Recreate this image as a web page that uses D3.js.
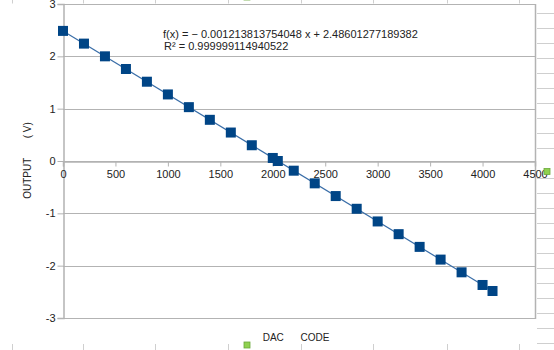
<!DOCTYPE html>
<html><head><meta charset="utf-8">
<script src="https://cdn.jsdelivr.net/npm/d3@7"></script>
<style>
html,body{margin:0;padding:0;background:#fff;}
svg{display:block;font-family:"Liberation Sans",Arial,sans-serif;}
</style></head>
<body>
<svg id="c" width="554" height="350"></svg>
<script>
// DATA
const dacCodes = [0,200,400,600,800,1000,1200,1400,1600,1800,2000,2048,2200,2400,2600,2800,3000,3200,3400,3600,3800,4000,4095];
const outputV  = [2.486,2.243,2.000,1.758,1.515,1.272,1.029,0.787,0.544,0.301,0.058,0.000,-0.185,-0.427,-0.670,-0.913,-1.155,-1.398,-1.641,-1.884,-2.127,-2.369,-2.484];
const xTicks = [0,500,1000,1500,2000,2500,3000,3500,4000,4500];
const yTicks = [-3,-2,-1,0,1,2,3];
const trendSlope = -0.001213813754048;
const trendIntercept = 2.48601277189382;
const eqLine1 = "f(x) = \u2212 0.001213813754048 x + 2.48601277189382";
const eqLine2 = "R\u00B2 = 0.999999114940522";
const xTitle = "DAC      CODE";
const yTitle = "OUTPUT       ( V)";

const svg = d3.select("#c");
const L=63, R=535, T=4, B=318;
const x = d3.scaleLinear().domain([0,4500]).range([L,R]);
const y = d3.scaleLinear().domain([-3,3]).range([B,T]);

// spreadsheet background lines (outside chart)
const colXs=[12,83,155,228,301,373,447,519];
const bg = svg.append("g").attr("stroke","#cfcfcf").attr("stroke-width",1);
colXs.forEach(cx=>{
  bg.append("line").attr("x1",cx+0.5).attr("x2",cx+0.5).attr("y1",0).attr("y2",3.5);
  bg.append("line").attr("x1",cx+0.5).attr("x2",cx+0.5).attr("y1",344).attr("y2",350);
});
[13,28,43,58,73,88,103,118,133,148,178,193,208,223,238,253,268,283,298,313,328,343].forEach(ry=>{
  bg.append("line").attr("x1",537).attr("x2",554).attr("y1",ry+0.5).attr("y2",ry+0.5);
});

// gridlines
svg.append("g").selectAll("line").data(yTicks).join("line")
  .attr("x1",L).attr("x2",R)
  .attr("y1",d=>Math.round(y(d))+0.5).attr("y2",d=>Math.round(y(d))+0.5)
  .attr("stroke","#b3b3b3").attr("stroke-width",1);
// right border
svg.append("line").attr("x1",R+0.5).attr("x2",R+0.5).attr("y1",T).attr("y2",B+1)
  .attr("stroke","#b3b3b3").attr("stroke-width",1.5);

const fmt = d=>String(d);
// y axis
const gy = svg.append("g").attr("transform",`translate(${L+0.5},0)`)
  .call(d3.axisLeft(y).tickValues(yTicks).tickSize(6).tickPadding(2).tickFormat(fmt));
// x axis at y=0
const gx = svg.append("g").attr("transform",`translate(0,${Math.round(y(0))+0.5})`)
  .call(d3.axisBottom(x).tickValues(xTicks).tickSize(5).tickPadding(4).tickFormat(fmt));
[gx,gy].forEach(g=>{
  g.select(".domain").attr("stroke","#b3b3b3").attr("stroke-width",1.5);
  g.selectAll(".tick line").attr("stroke","#b3b3b3");
  g.selectAll("text").attr("fill","#222").style("font-size","11px").style("font-family","'Liberation Sans',Arial,sans-serif");
});

// trend line
const xs=[dacCodes[0], dacCodes[dacCodes.length-1]];
svg.append("line")
  .attr("x1",x(xs[0])).attr("y1",y(trendSlope*xs[0]+trendIntercept))
  .attr("x2",x(xs[1])).attr("y2",y(trendSlope*xs[1]+trendIntercept))
  .attr("stroke","#3a6ea8").attr("stroke-width",1.2);

// markers
const pts = dacCodes.map((d,i)=>({x:d,y:outputV[i]}));
const ms=10;
svg.append("g").selectAll("rect").data(pts).join("rect")
  .attr("x",d=>x(d.x)-ms/2).attr("y",d=>y(d.y)-ms/2)
  .attr("width",ms).attr("height",ms).attr("fill","#004586");

// equation
svg.append("text").attr("x",163).attr("y",38).attr("fill","#222").style("font-size","11px").text(eqLine1);
svg.append("text").attr("x",164).attr("y",50).attr("fill","#222").style("font-size","11px").text(eqLine2);

// titles
svg.append("text").attr("x",296).attr("y",341).attr("text-anchor","middle")
  .attr("fill","#222").style("font-size","10px").style("white-space","pre").text(xTitle);
svg.append("text").attr("transform","translate(31,160.5) rotate(-90)").attr("text-anchor","middle")
  .attr("fill","#222").style("font-size","10px").style("white-space","pre").text(yTitle);

// selection handles
[[247,-3],[247,345],[547,171.5]].forEach(([hx,hy])=>{
  svg.append("rect").attr("x",hx-3).attr("y",hy-3).attr("width",6).attr("height",6)
    .attr("fill","#8fd14f").attr("stroke","#6aa83a").attr("stroke-width",0.8);
});
</script>
</body></html>
